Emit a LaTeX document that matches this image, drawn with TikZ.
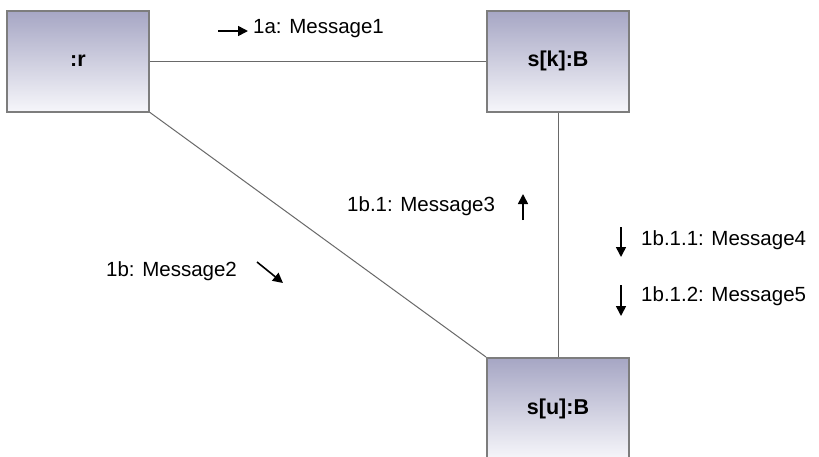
\documentclass[tikz,border=0pt]{standalone}
\usepackage{fontspec}
\setmainfont{Liberation Sans}
\usetikzlibrary{arrows.meta}
\definecolor{boxtop}{RGB}{166,166,196}
\definecolor{boxbot}{RGB}{246,246,250}
\definecolor{boxline}{RGB}{125,125,125}
\definecolor{linkline}{RGB}{105,105,105}
\tikzset{
  objbox/.style={draw=boxline, line width=2pt, top color=boxtop, bottom color=boxbot,
    minimum width=142pt, minimum height=101pt, inner sep=0pt,
    font=\fontsize{21.5}{24}\selectfont\bfseries},
  link/.style={draw=linkline, line width=1pt},
  msg/.style={font=\fontsize{20.5}{24}\selectfont, inner sep=0pt, anchor=west},
  msgarrow/.style={draw=black, line width=1.6pt, -{Triangle[length=10pt,width=10pt]}}
}
\begin{document}
\begin{tikzpicture}[x=1pt,y=-1pt]
\useasboundingbox[fill=white] (0,0) rectangle (819,456);
\node[objbox] (r) at (78,61) {:r};
\node[objbox] (sk) at (558,61) {s[k]:B};
\node[objbox] (su) at (558,408.5) {s[u]:B};
\draw[link] (r.east) -- (sk.west);
\draw[link] (r.south east) -- (su.north west);
\draw[link] (sk.south) -- (su.north);
% message 1a
\coordinate (a1s) at (218,31);
\coordinate (a1e) at (248,31);
\draw[msgarrow] (a1s) -- (a1e);
\node[msg] (m1) at (253,29) {1a: Message1};
% message 1b
\node[msg] (m2) at (106,271) {1b: Message2};
\coordinate (a2s) at (257,262);
\coordinate (a2e) at (283,283);
\draw[msgarrow] (a2s) -- (a2e);
% message 1b.1
\node[msg] (m3) at (347,206) {1b.1: Message3};
\coordinate (a3s) at (523,220);
\coordinate (a3e) at (523,194);
\draw[msgarrow] (a3s) -- (a3e);
% message 1b.1.1
\coordinate (a4s) at (621,227);
\coordinate (a4e) at (621,257);
\draw[msgarrow] (a4s) -- (a4e);
\node[msg] (m4) at (641,240) {1b.1.1: Message4};
% message 1b.1.2
\coordinate (a5s) at (621,285);
\coordinate (a5e) at (621,316);
\draw[msgarrow] (a5s) -- (a5e);
\node[msg] (m5) at (641,296) {1b.1.2: Message5};
\end{tikzpicture}
\end{document}
